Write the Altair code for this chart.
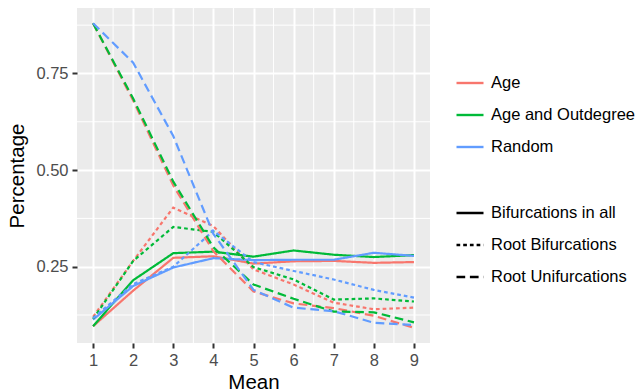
import altair as alt
import pandas as pd

means = [1, 2, 3, 4, 5, 6, 7, 8, 9]
methods = ["Age", "Age and Outdegree", "Random"]
types = ["Bifurcations in all", "Root Bifurcations", "Root Unifurcations"]

# Bifurcations in all (solid)
age_all = [0.096, 0.188, 0.273, 0.277, 0.258, 0.264, 0.265, 0.260, 0.262]
ao_all = [0.096, 0.215, 0.285, 0.289, 0.276, 0.292, 0.281, 0.275, 0.280]
rnd_all = [0.113, 0.200, 0.248, 0.272, 0.267, 0.268, 0.268, 0.286, 0.278]

# Root Bifurcations (dotted)
age_rb = [0.120, 0.265, 0.403, 0.355, 0.243, 0.204, 0.157, 0.140, 0.144]
ao_rb = [0.115, 0.265, 0.353, 0.340, 0.249, 0.217, 0.165, 0.168, 0.160]
rnd_rb = [0.117, 0.205, 0.250, 0.343, 0.262, 0.239, 0.217, 0.190, 0.170]

# Root Unifurcations (dashed)
age_ru = [0.880, 0.680, 0.460, 0.290, 0.186, 0.155, 0.143, 0.123, 0.092]
ao_ru = [0.880, 0.685, 0.470, 0.300, 0.204, 0.167, 0.134, 0.132, 0.106]
rnd_ru = [0.880, 0.778, 0.588, 0.335, 0.190, 0.144, 0.135, 0.105, 0.099]

colors = ["#F8766D", "#00BA38", "#619CFF"]
dashes = [[1, 0], [3.7, 3], [8.7, 4.7]]

x_ticks = [1, 2, 3, 4, 5, 6, 7, 8, 9]
y_ticks = [0.25, 0.50, 0.75]
x_minor = [1.5, 2.5, 3.5, 4.5, 5.5, 6.5, 7.5, 8.5]
y_minor = [0.125, 0.375, 0.625, 0.875]

series = {
    ("Age", types[0]): age_all,
    ("Age and Outdegree", types[0]): ao_all,
    ("Random", types[0]): rnd_all,
    ("Age", types[1]): age_rb,
    ("Age and Outdegree", types[1]): ao_rb,
    ("Random", types[1]): rnd_rb,
    ("Age", types[2]): age_ru,
    ("Age and Outdegree", types[2]): ao_ru,
    ("Random", types[2]): rnd_ru,
}
rows = []
for (m, t), vals in series.items():
    for xm, v in zip(means, vals):
        rows.append({"Method": m, "Type": t, "Mean": xm, "Percentage": v})
df = pd.DataFrame(rows)

FONT = "Liberation Sans"
xscale = alt.Scale(domain=[0.6, 9.4], nice=False, zero=False)
yscale = alt.Scale(domain=[0.0526, 0.9194], nice=False, zero=False)
xaxis = alt.Axis(values=x_ticks, format="d", title="Mean", titlePadding=4)
yaxis = alt.Axis(values=y_ticks, format=".2f", title="Percentage", titlePadding=8)

minor_x = alt.Chart(pd.DataFrame({"Mean": x_minor})).mark_rule(
    color="white", strokeWidth=1
).encode(x=alt.X("Mean:Q", scale=xscale, axis=xaxis))

minor_y = alt.Chart(pd.DataFrame({"Percentage": y_minor})).mark_rule(
    color="white", strokeWidth=1
).encode(y=alt.Y("Percentage:Q", scale=yscale, axis=yaxis))

lines = alt.Chart(df).mark_line(strokeWidth=2.2).encode(
    x=alt.X("Mean:Q", scale=xscale, axis=xaxis),
    y=alt.Y("Percentage:Q", scale=yscale, axis=yaxis),
    color=alt.Color(
        "Method:N",
        scale=alt.Scale(domain=methods, range=colors),
        legend=alt.Legend(title=None, orient="none", legendX=378, legendY=60),
    ),
    strokeDash=alt.StrokeDash(
        "Type:N",
        scale=alt.Scale(domain=types, range=dashes),
        legend=alt.Legend(title=None, orient="none", legendX=378, legendY=190,
                          symbolStrokeColor="black"),
    ),
    detail="Type:N",
)

chart = alt.layer(minor_x, minor_y, lines).properties(
    width=353,
    height=335,
    autosize=alt.AutoSizeParams(type="none"),
    padding={"left": 77, "top": 8, "right": 206, "bottom": 49},
).configure_view(
    fill="#EBEBEB", strokeWidth=0
).configure_axis(
    domain=False,
    tickColor="#333333",
    tickWidth=2,
    tickSize=5,
    labelColor="#4D4D4D",
    labelFont=FONT,
    labelFontSize=16.5,
    labelPadding=4,
    titleFont=FONT,
    titleFontSize=20.5,
    titleFontWeight="normal",
    titleColor="black",
    gridColor="white",
    gridWidth=2,
).configure_legend(
    labelFont=FONT,
    labelFontSize=16.5,
    labelColor="black",
    symbolType="stroke",
    symbolSize=729,
    symbolStrokeWidth=2.4,
    labelOffset=6,
    rowPadding=8,
    padding=0,
    labelLimit=300,
)

chart.save("out.html", embed_options={"renderer": "svg", "actions": False})
